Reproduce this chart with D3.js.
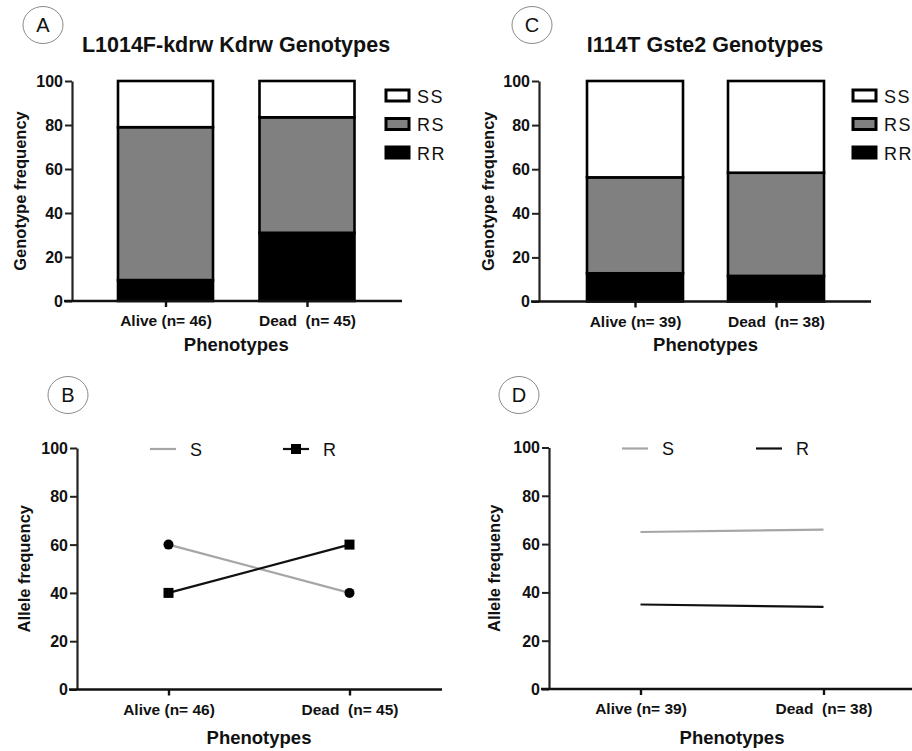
<!DOCTYPE html>
<html>
<head>
<meta charset="utf-8">
<script src="https://cdn.jsdelivr.net/npm/d3@7"></script>
<style>
  html, body { margin: 0; padding: 0; background: #fff; }
  svg { display: block; }
  text { font-family: "Liberation Sans", Arial, sans-serif; white-space: pre; }
</style>
</head>
<body>
<svg id="chart" width="912" height="751"></svg>
<script>
// ---------------- DATA ----------------
const genotypeKeys = ["RR", "RS", "SS"];
const legendOrder = ["SS", "RS", "RR"];
const yTicks = [0, 20, 40, 60, 80, 100];

// Panel A: L1014F-kdrw
const catsA = ["Alive (n= 46)", "Dead  (n= 45)"];
const rrA = [9.5, 31];
const rsA = [69.5, 52.5];
const ssA = [21, 16.5];

// Panel C: I114T Gste2
const catsC = ["Alive (n= 39)", "Dead  (n= 38)"];
const rrC = [12.8, 11.6];
const rsC = [43.5, 46.8];
const ssC = [43.7, 41.6];

// Panel B: allele frequency (kdrw)
const catsB = ["Alive (n= 46)", "Dead  (n= 45)"];
const sB = [60, 40];
const rB = [40, 60];

// Panel D: allele frequency (Gste2)
const catsD = ["Alive (n= 39)", "Dead  (n= 38)"];
const sD = [65, 66];
const rD = [35, 34];

// ---------------- DRAW ----------------
const svg = d3.select("#chart");
const FONT = '"Liberation Sans", Arial, sans-serif';
const fills = { SS: "#ffffff", RS: "#808080", RR: "#000000" };

function panelLabel(cx, cy, letter) {
  svg.append("ellipse").attr("cx", cx).attr("cy", cy).attr("rx", 20).attr("ry", 18.5)
    .attr("fill", "none").attr("stroke", "#8a8a8a").attr("stroke-width", 1);
  svg.append("text").attr("x", cx).attr("y", cy + 7).attr("text-anchor", "middle")
    .attr("font-size", 20).attr("fill", "#111").text(letter);
}

function yAxis(g, y, x0, yLabel, labelX) {
  const ax = d3.axisLeft(y).tickValues(yTicks).tickSize(7).tickSizeOuter(0).tickPadding(2);
  const a = g.append("g").attr("transform", `translate(${x0},0)`).call(ax);
  a.select(".domain").attr("stroke", "#222").attr("stroke-width", 2.2);
  a.selectAll(".tick line").attr("stroke", "#222").attr("stroke-width", 2);
  a.selectAll(".tick text").attr("font-family", FONT).attr("font-size", 16)
    .attr("font-weight", "bold").attr("fill", "#111").attr("dy", "0.34em");
  const [ylo, yhi] = y.range();
  g.append("text")
    .attr("transform", `translate(${labelX},${(ylo + yhi) / 2}) rotate(-90)`)
    .attr("text-anchor", "middle").attr("font-size", 16.5).attr("font-weight", "bold")
    .attr("fill", "#111").text(yLabel);
}

function xAxis(g, x, y0, xStart, xEnd, titleY) {
  g.append("line").attr("x1", xStart).attr("x2", xEnd).attr("y1", y0).attr("y2", y0)
    .attr("stroke", "#111").attr("stroke-width", 2.6);
  const ax = d3.axisBottom(x).tickSize(6).tickSizeOuter(0).tickPadding(8);
  const a = g.append("g").attr("transform", `translate(0,${y0})`).call(ax);
  a.select(".domain").remove();
  a.selectAll(".tick line").attr("stroke", "#111").attr("stroke-width", 2.4);
  a.selectAll(".tick text").attr("font-family", FONT).attr("font-size", 15.5)
    .attr("font-weight", "bold").attr("fill", "#111");
  const mid = (x.range()[0] + x.range()[1]) / 2;
  g.append("text").attr("x", mid).attr("y", titleY).attr("text-anchor", "middle")
    .attr("font-size", 18.5).attr("font-weight", "bold").attr("fill", "#111").text("Phenotypes");
}

function stackedPanel(opt) {
  const g = svg.append("g");
  const rows = opt.cats.map((c, i) => ({ cat: c, RR: opt.rr[i], RS: opt.rs[i], SS: opt.ss[i] }));
  const y = d3.scaleLinear().domain([0, 100]).range([opt.y0, opt.y1]);
  const x = d3.scalePoint().domain(opt.cats).range(opt.xr);
  const series = d3.stack().keys(genotypeKeys)(rows);

  series.forEach(s => {
    g.selectAll(null).data(s).join("rect")
      .attr("x", d => x(d.data.cat) - opt.bw / 2)
      .attr("width", opt.bw)
      .attr("y", d => y(d[1]))
      .attr("height", d => y(d[0]) - y(d[1]))
      .attr("fill", fills[s.key])
      .attr("stroke", "#000").attr("stroke-width", 2.6);
  });

  yAxis(g, y, opt.ax, "Genotype frequency", opt.labelX);
  xAxis(g, x, opt.y0, opt.axStart, opt.axEnd, opt.titleY);

  g.append("text").attr("x", opt.titleX).attr("y", opt.titleTop).attr("text-anchor", "middle")
    .attr("font-size", opt.titleSize).attr("font-weight", "bold").attr("fill", "#111").text(opt.title);

  const leg = g.append("g");
  legendOrder.forEach((k, i) => {
    const cy = opt.legY + i * 28.5;
    leg.append("rect").attr("x", opt.legX).attr("y", cy - 6).attr("width", 23).attr("height", 11)
      .attr("fill", fills[k]).attr("stroke", "#000").attr("stroke-width", 3);
    leg.append("text").attr("x", opt.legX + 31).attr("y", cy + 6.5).attr("font-size", 18)
      .attr("letter-spacing", 1.5).attr("fill", "#111").text(k);
  });
}

function linePanel(opt) {
  const g = svg.append("g");
  const y = d3.scaleLinear().domain([0, 100]).range([opt.y0, opt.y1]);
  const x = d3.scalePoint().domain(opt.cats).range(opt.xr);
  const line = d3.line().x(d => x(d.cat)).y(d => y(d.v));
  const sData = opt.cats.map((c, i) => ({ cat: c, v: opt.s[i] }));
  const rData = opt.cats.map((c, i) => ({ cat: c, v: opt.r[i] }));

  g.append("path").datum(sData).attr("d", line).attr("fill", "none")
    .attr("stroke", "#a6a6a6").attr("stroke-width", 2.2);
  g.append("path").datum(rData).attr("d", line).attr("fill", "none")
    .attr("stroke", "#111").attr("stroke-width", 2.2);

  if (opt.markers) {
    g.selectAll(null).data(sData).join("circle")
      .attr("cx", d => x(d.cat)).attr("cy", d => y(d.v)).attr("r", 5).attr("fill", "#000");
    g.selectAll(null).data(rData).join("rect")
      .attr("x", d => x(d.cat) - 5).attr("y", d => y(d.v) - 5)
      .attr("width", 10).attr("height", 10).attr("fill", "#000");
  }

  yAxis(g, y, opt.ax, "Allele frequency", opt.labelX);
  xAxis(g, x, opt.y0, opt.axStart, opt.axEnd, opt.titleY);

  // legend
  const ly = opt.legY;
  g.append("line").attr("x1", opt.legS).attr("x2", opt.legS + 26).attr("y1", ly).attr("y2", ly)
    .attr("stroke", "#a6a6a6").attr("stroke-width", 2.2);
  g.append("text").attr("x", opt.legS + 40).attr("y", ly + 6.5).attr("font-size", 18)
    .attr("fill", "#111").text("S");
  g.append("line").attr("x1", opt.legR).attr("x2", opt.legR + 26).attr("y1", ly).attr("y2", ly)
    .attr("stroke", "#111").attr("stroke-width", 2.2);
  if (opt.markers) {
    g.append("rect").attr("x", opt.legR + 8).attr("y", ly - 5).attr("width", 10).attr("height", 10)
      .attr("fill", "#000");
  }
  g.append("text").attr("x", opt.legR + 40).attr("y", ly + 6.5).attr("font-size", 18)
    .attr("fill", "#111").text("R");
}

stackedPanel({
  cats: catsA, rr: rrA, rs: rsA, ss: ssA,
  y0: 301, y1: 81, xr: [165.5, 307], bw: 95, ax: 72,
  axStart: 64, axEnd: 402, labelX: 26, titleY: 351,
  title: "L1014F-kdrw Kdrw Genotypes", titleX: 236, titleTop: 52, titleSize: 21.5,
  legX: 386, legY: 96
});
stackedPanel({
  cats: catsC, rr: rrC, rs: rsC, ss: ssC,
  y0: 301.5, y1: 81, xr: [635, 776], bw: 96, ax: 539,
  axStart: 531, axEnd: 871, labelX: 494, titleY: 351,
  title: "I114T Gste2 Genotypes", titleX: 705, titleTop: 52, titleSize: 21.5,
  legX: 853, legY: 96
});
linePanel({
  cats: catsB, s: sB, r: rB, markers: true,
  y0: 689.5, y1: 448, xr: [168.5, 349.5], ax: 77,
  axStart: 69, axEnd: 442, labelX: 30, titleY: 744,
  legY: 449, legS: 150, legR: 283
});
linePanel({
  cats: catsD, s: sD, r: rD, markers: false,
  y0: 689, y1: 447.5, xr: [640.5, 823.5], ax: 549,
  axStart: 541, axEnd: 912, labelX: 500, titleY: 744,
  legY: 448.5, legS: 622, legR: 756
});

panelLabel(43, 25, "A");
panelLabel(532, 25, "C");
panelLabel(68, 395, "B");
panelLabel(519, 395, "D");
</script>
</body>
</html>
